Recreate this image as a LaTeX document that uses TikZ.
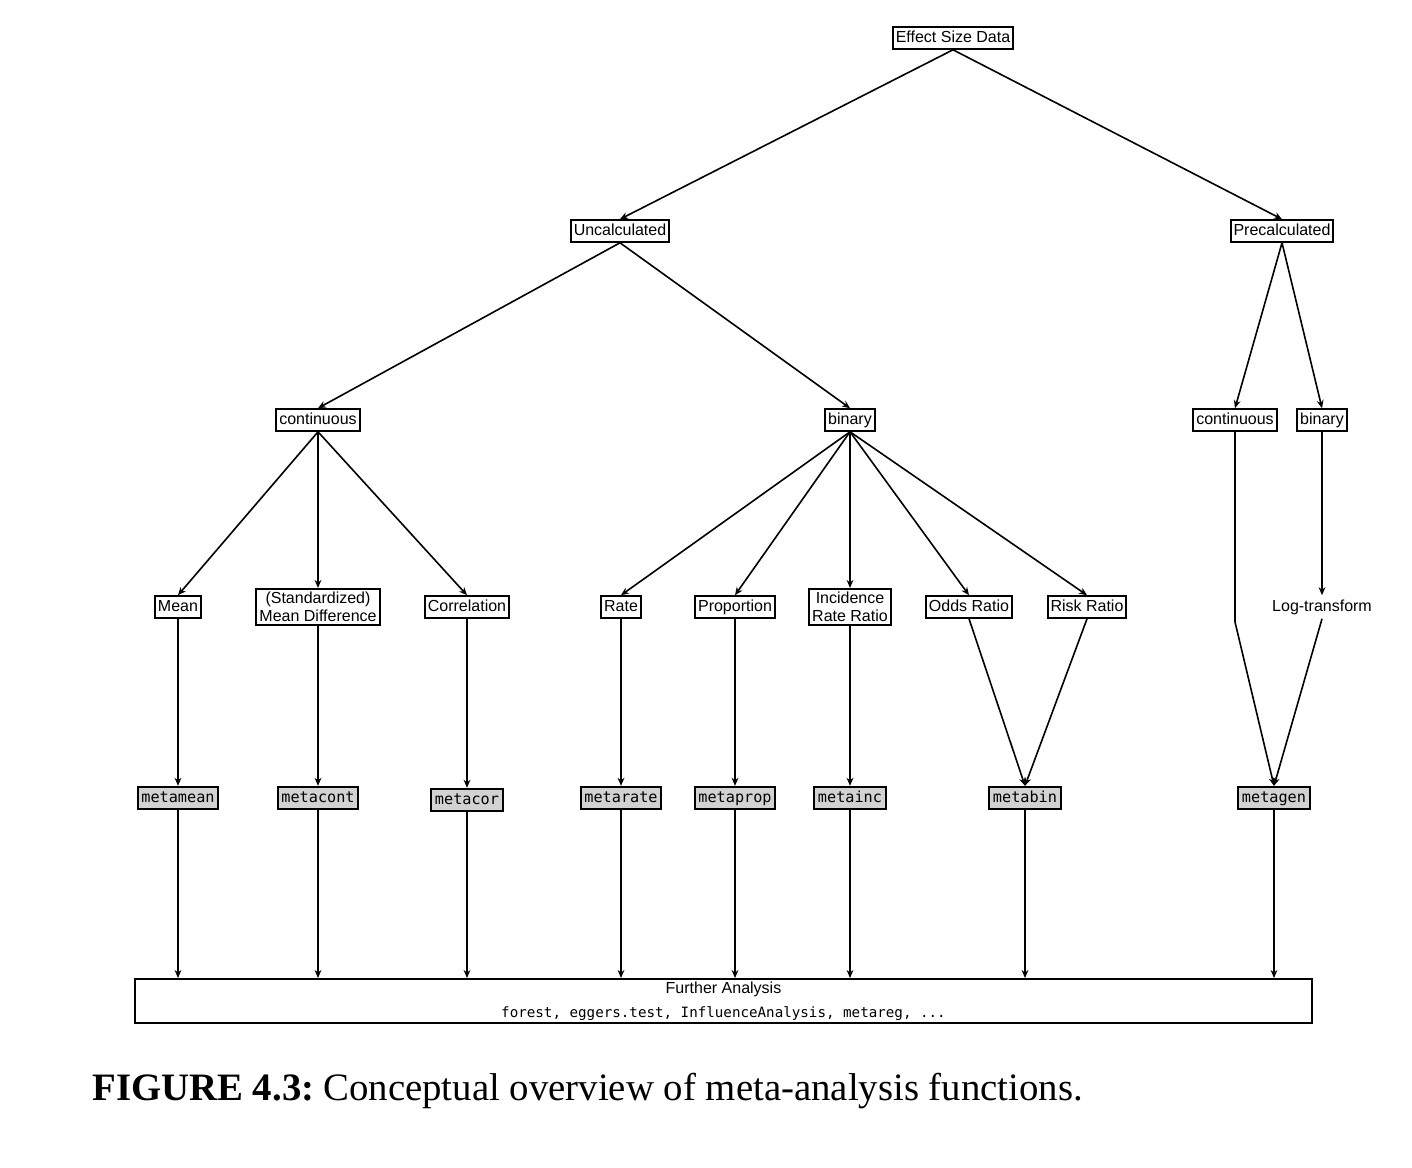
\documentclass[tikz,border=0pt]{standalone}
\usepackage{fontspec}
\setmainfont{Liberation Serif}
\setsansfont{Liberation Sans}
\setmonofont{DejaVu Sans Mono}
\usetikzlibrary{arrows.meta,calc}
\tikzset{
  lvl/.style={draw,line width=1pt,font=\sffamily\fontsize{8}{9.2}\selectfont,inner sep=1.5pt,align=center,text height=6pt,text depth=1.8pt},
  twoline/.style={lvl,text height=,text depth=},
  fun/.style={draw,line width=1pt,fill=gray!35,font=\ttfamily\fontsize{7.6}{9}\selectfont,inner sep=1.8pt,text height=5.8pt,text depth=1.8pt},
  link/.style={line width=0.8pt,-{Stealth[length=4pt,width=3.4pt]}},
}

\begin{document}
\begin{tikzpicture}[x=0.5pt,y=-0.5pt]
        \useasboundingbox (0,0) rectangle (1412,1167);
        %levels
        \node[lvl] (esd) at (953,38) {Effect Size Data};
        \node[lvl] (uncalc) at (620,231) {Uncalculated};
        \node[lvl] (precalc) at (1282,231) {Precalculated};
        \node[lvl] (cont) at (318,420) {continuous};
        \node[lvl] (bin) at (850,420) {binary};
        \node[lvl] (pcont) at (1235,420) {continuous};
        \node[lvl] (pbin) at (1322,420) {binary};
        %effect sizes
        \node[lvl] (mean) at (178,607) {Mean};
        \node[twoline] (smd) at (318,607) {(Standardized)\\Mean Difference};
        \node[lvl] (cor) at (467,607) {Correlation};
        \node[lvl] (rate) at (621,607) {Rate};
        \node[lvl] (prop) at (735,607) {Proportion};
        \node[twoline] (irr) at (850,607) {Incidence\\Rate Ratio};
        \node[lvl] (or) at (969,607) {Odds Ratio};
        \node[lvl] (rr) at (1087,607) {Risk Ratio};
        \node[lvl,draw=none] (logt) at (1322,607) {Log-transform};
        \coordinate (bend) at (1235,622);
        %functions
        \node[fun] (metamean) at (178,798) {metamean};
        \node[fun] (metacont) at (318,798) {metacont};
        \node[fun] (metacor) at (467,800) {metacor};
        \node[fun] (metarate) at (621,798) {metarate};
        \node[fun] (metaprop) at (735,798) {metaprop};
        \node[fun] (metainc) at (850,798) {metainc};
        \node[fun] (metabin) at (1025,798) {metabin};
        \node[fun] (metagen) at (1274,798) {metagen};
        \node[draw,line width=1pt,minimum width=588.5pt,minimum height=22pt,align=center,inner sep=1pt] (further) at (723.5,1001)
          {\sffamily\fontsize{8}{10.5}\selectfont Further Analysis\\ \ttfamily\fontsize{7.1}{10.5}\selectfont forest, eggers.test, InfluenceAnalysis, metareg, ...};
        \node[anchor=west,inner sep=0pt,font=\fontsize{19.4}{22}\selectfont] (caption) at (92,1091)
          {\textbf{FIGURE 4.3:}\hspace{-2pt} Conceptual overview of meta-analysis functions.};

        \draw[link] (esd.south) -- (uncalc.north);
        \draw[link] (esd.south) -- (precalc.north);
        \draw[link] (uncalc.south) -- (cont.north);
        \draw[link] (uncalc.south) -- (bin.north);
        \draw[link] (precalc.south) -- (pcont.north);
        \draw[link] (precalc.south) -- (pbin.north);
        \foreach \e in {mean,smd,cor} \draw[link] (cont.south) -- (\e.north);
        \foreach \e in {rate,prop,irr,or,rr} \draw[link] (bin.south) -- (\e.north);
        \draw[link] (pbin.south) -- (logt.north);
        \foreach \e/\f in {mean/metamean,smd/metacont,cor/metacor,rate/metarate,prop/metaprop,irr/metainc}
          \draw[link] (\e.south) -- (\e.south |- \f.north);
        \draw[link] (or.south) -- (metabin.north);
        \draw[link] (rr.south) -- (metabin.north);
        \draw[line width=0.8pt] (pcont.south) -- (bend);
        \draw[link] (bend) -- (metagen.north);
        \draw[link] (logt.south) -- (metagen.north);
        \foreach \f in {metamean,metacont,metacor,metarate,metaprop,metainc,metabin,metagen}
          \draw[link] (\f.south) -- (\f.south |- further.north);
\end{tikzpicture}
\end{document}
